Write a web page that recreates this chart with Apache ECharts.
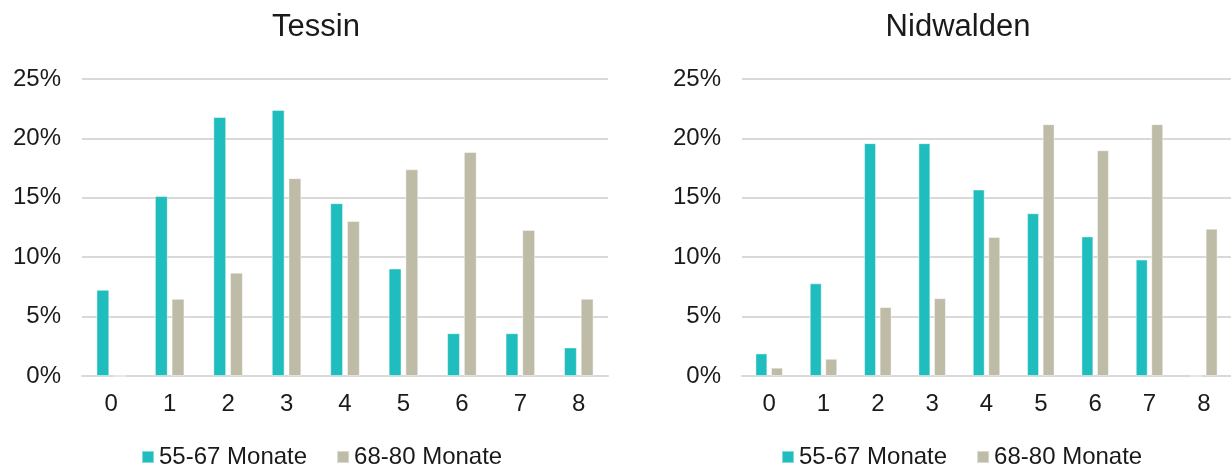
<!DOCTYPE html>
<html>
<head>
<meta charset="utf-8">
<script src="https://cdn.jsdelivr.net/npm/echarts@6/dist/echarts.min.js"></script>
<style>
  html, body { margin: 0; padding: 0; background: #fff; }
  #chart { width: 1231px; height: 469px; }
</style>
</head>
<body>
<div id="chart"></div>
<script>
// Anzahl (0–8) on the x axis, share of children in percent
const categories = ['0', '1', '2', '3', '4', '5', '6', '7', '8'];
const seriesNames = ['55-67 Monate', '68-80 Monate'];
const panelTitles = ['Tessin', 'Nidwalden'];

const tessinYoung = [7.25, 15.15, 21.8, 22.4, 14.55, 9.05, 3.6, 3.6, 2.4];
const tessinOld   = [0, 6.5, 8.7, 16.65, 13.05, 17.4, 18.85, 12.3, 6.5];
const nidwaldenYoung = [1.9, 7.8, 19.6, 19.6, 15.7, 13.7, 11.75, 9.8, 0];
const nidwaldenOld   = [0.7, 1.45, 5.8, 6.55, 11.7, 21.2, 19.0, 21.2, 12.4];

const yTicks = [0, 5, 10, 15, 20, 25];

const colors = ['#1fbdbd', '#bebba6'];
const font = 'Liberation Sans, Arial, sans-serif';
const textColor = '#1a1a1a';

const grids = [
  { left: 82, width: 526, top: 79, height: 297 },
  { left: 742, width: 489, top: 79, height: 297 }
];

function xAxis(i) {
  return {
    type: 'category', gridIndex: i, data: categories,
    axisLine: { show: true, lineStyle: { color: '#d9d9d9', width: 2 } },
    axisTick: { show: false },
    axisLabel: { color: textColor, fontSize: 24, fontFamily: font, margin: 16 }
  };
}
function yAxis(i) {
  return {
    type: 'value', gridIndex: i,
    min: yTicks[0], max: yTicks[yTicks.length - 1], interval: yTicks[1] - yTicks[0],
    axisLine: { show: false }, axisTick: { show: false },
    axisLabel: { color: textColor, fontSize: 24, fontFamily: font, margin: 21, formatter: '{value}%' },
    splitLine: { lineStyle: { color: '#d9d9d9', width: 2 } }
  };
}
function bars(name, data, i, color) {
  return {
    name, type: 'bar', data, xAxisIndex: i, yAxisIndex: i,
    barWidth: '22%', barGap: '30%',
    itemStyle: { color, borderColor: 'rgba(255,255,255,0.45)', borderWidth: 1 },
    animation: false
  };
}
function legend(left) {
  return {
    data: seriesNames, left, top: 445, padding: 0,
    itemWidth: 12, itemHeight: 12, itemGap: 29,
    icon: 'rect', selectedMode: false,
    textStyle: { color: textColor, fontSize: 24, fontFamily: font }
  };
}
function title(text, x) {
  return {
    text, left: x, top: 12, textAlign: 'center', padding: 0,
    textStyle: { color: textColor, fontSize: 31, fontWeight: 'normal', fontFamily: font }
  };
}

const chart = echarts.init(document.getElementById('chart'), null, { renderer: 'canvas' });
chart.setOption({
  animation: false,
  color: colors,
  title: [title(panelTitles[0], 316), title(panelTitles[1], 958)],
  legend: [legend(141), legend(781)],
  grid: grids,
  xAxis: [xAxis(0), xAxis(1)],
  yAxis: [yAxis(0), yAxis(1)],
  series: [
    bars(seriesNames[0], tessinYoung, 0, colors[0]),
    bars(seriesNames[1], tessinOld, 0, colors[1]),
    bars(seriesNames[0], nidwaldenYoung, 1, colors[0]),
    bars(seriesNames[1], nidwaldenOld, 1, colors[1])
  ]
});
</script>
</body>
</html>
